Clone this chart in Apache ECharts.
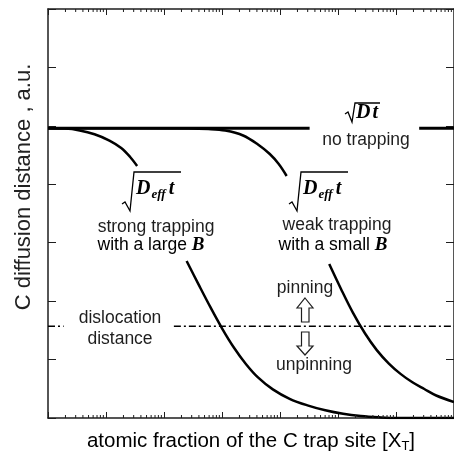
<!DOCTYPE html>
<html><head><meta charset="utf-8">
<script src="https://cdn.jsdelivr.net/npm/echarts@6/dist/echarts.min.js"></script>
<style>html,body{margin:0;padding:0;background:#fff}#c{width:454px;height:452px}</style>
</head><body><div id="c"></div>
<script>
// ---- data (x: atomic fraction of trap site, log scale; y: diffusion distance, a.u.) ----
const xRange = [1e-7, 1];
const yRange = [0, 7];
const decadeExps = [-7, -6, -5, -4, -3, -2, -1];
const minorMultipliers = [2, 3, 4, 5, 6, 7, 8, 9];

const noTrapA = [[1e-7, 4.96], [3.24e-3, 4.96]];
const noTrapB = [[0.251, 4.96], [1, 4.96]];

const strongA = [[1e-7, 4.958], [1.95e-7, 4.953], [3.52e-7, 4.922], [6.34e-7, 4.857], [1.146e-6, 4.749], [1.83e-6, 4.621], [2.61e-6, 4.467], [3.44e-6, 4.313]];
const strongB = [[2.455e-5, 2.687], [3.94e-5, 2.287], [6.31e-5, 1.897], [1.012e-4, 1.527], [1.622e-4, 1.198], [2.60e-4, 0.921], [4.17e-4, 0.695], [7.52e-4, 0.490], [1.466e-3, 0.329], [2.97e-3, 0.217], [6.04e-3, 0.132], [1.225e-2, 0.072], [2.48e-2, 0.034], [5.04e-2, 0.012], [1.023e-1, 0.0], [1, 0.0]];

const weakA = [[1e-7, 4.958], [2.65e-5, 4.956], [5.83e-5, 4.946], [1.138e-4, 4.919], [2.31e-4, 4.835], [4.17e-4, 4.681], [6.67e-4, 4.518], [9.51e-4, 4.347], [1.303e-3, 4.142]];
const weakB = [[7.06e-3, 2.635], [1.132e-2, 2.204], [1.815e-2, 1.799], [2.91e-2, 1.450], [4.66e-2, 1.162], [7.46e-2, 0.936], [0.1197, 0.755], [0.1919, 0.611], [0.3076, 0.496], [0.493, 0.385], [1, 0.274]];

const dislocA = [[1e-7, 1.57], [1.86e-7, 1.57]];
const dislocB = [[1.48e-5, 1.57], [1, 1.57]];

const minorTicks = [];
decadeExps.forEach(e => minorMultipliers.forEach(m => minorTicks.push([m * Math.pow(10, e), 0])));

// ---- chart ----
const INK = '#1e1e1e';
const SANS = '"Liberation Sans", Arial, sans-serif';
const SERIF = '"Liberation Serif", "Times New Roman", serif';
const chart = echarts.init(document.getElementById('c'), null, {renderer: 'canvas'});

function xAx(pos) {
  return {
    type: 'log', logBase: 10, min: xRange[0], max: xRange[1], position: pos,
    axisLine: {show: true, onZero: false, lineStyle: {color: INK, width: 1.5}},
    axisTick: {show: true, inside: true, length: 6, lineStyle: {color: INK, width: 1}},
    axisLabel: {show: false}, splitLine: {show: false}
  };
}
function yAx(pos) {
  return {
    type: 'value', min: yRange[0], max: yRange[1], interval: 1, position: pos,
    axisLine: {show: true, onZero: false, lineStyle: {color: INK, width: 1.5}},
    axisTick: {show: true, inside: true, length: 8, lineStyle: {color: INK, width: 1}},
    axisLabel: {show: false}, splitLine: {show: false}
  };
}
function curve(data, w) {
  return {type: 'line', data: data, xAxisIndex: 0, yAxisIndex: 0, symbol: 'none', smooth: 0.35,
    lineStyle: {color: '#000', width: w}, silent: true, animation: false, z: 3};
}
function dash(data) {
  return {type: 'line', data: data, symbol: 'none', silent: true, animation: false,
    lineStyle: {color: '#000', width: 1.3, type: [7, 3, 2, 3]}, z: 2};
}

function txt(text, x, y, opts, extra) {
  return Object.assign({type: 'text', x: x, y: y, silent: true,
    style: Object.assign({text: text, font: '17.5px ' + SANS, fill: INK, align: 'center', verticalAlign: 'middle'}, opts || {})}, extra || {});
}
const richD = {
  D: {fontFamily: SERIF, fontWeight: 'bold', fontStyle: 'italic', fontSize: 20, lineHeight: 24, color: '#000', verticalAlign: 'middle'},
  s: {fontFamily: SERIF, fontWeight: 'bold', fontStyle: 'italic', fontSize: 13, lineHeight: 13, color: '#000', verticalAlign: 'bottom', padding: [0, 1, 0, 1]},
  t: {fontFamily: SERIF, fontWeight: 'bold', fontStyle: 'italic', fontSize: 20, lineHeight: 24, color: '#000', verticalAlign: 'middle', padding: [0, 0, 0, 2]}
};
function deff(x, y) {
  return {type: 'text', x: x, y: y, silent: true,
    style: {text: '{D|D}{s|eff}{t|t}', rich: richD, align: 'left', verticalAlign: 'middle'}};
}
function radical(pts) {
  return {type: 'polyline', silent: true, shape: {points: pts}, style: {stroke: '#000', lineWidth: 1.3, fill: null}};
}
const richB = {
  n: {fontFamily: SANS, fontSize: 17.5, color: INK},
  b: {fontFamily: SERIF, fontWeight: 'bold', fontStyle: 'italic', fontSize: 19, color: '#000'}
};

const option = {
  animation: false,
  backgroundColor: '#fff',
  grid: {left: 48, top: 9, width: 410, height: 409, containLabel: false},
  xAxis: [xAx('bottom'), xAx('top')],
  yAxis: [yAx('left'), yAx('right')],
  series: [
    curve(noTrapA, 3), curve(noTrapB, 3),
    curve(strongA, 2.5), curve(strongB, 2.5),
    curve(weakA, 2.5), curve(weakB, 2.5),
    dash(dislocA), dash(dislocB),
    {type: 'custom', data: minorTicks, silent: true, animation: false, z: 4, clip: false,
      renderItem: function (params, api) {
        const xv = api.value(0);
        const b = api.coord([xv, yRange[0]]);
        const t = api.coord([xv, yRange[1]]);
        const len = 3;
        return {type: 'group', children: [
          {type: 'line', shape: {x1: b[0], y1: b[1], x2: b[0], y2: b[1] - len}, style: {stroke: INK, lineWidth: 1}},
          {type: 'line', shape: {x1: t[0], y1: t[1], x2: t[0], y2: t[1] + len}, style: {stroke: INK, lineWidth: 1}}
        ]};
      }}
  ],
  graphic: {elements: [
    // axis titles
    txt('C diffusion distance , a.u.', 24, 187, {font: '22px ' + SANS, fill: '#222'}, {rotation: Math.PI / 2}),
    {type: 'text', x: 251, y: 441, silent: true, style: {
      text: '{a|atomic fraction of the C trap site [X}{b|T}{a|]}', align: 'center', verticalAlign: 'middle',
      rich: {a: {fontFamily: SANS, fontSize: 20.5, lineHeight: 24, color: '#222', verticalAlign: 'middle'},
             b: {fontFamily: SANS, fontSize: 13, lineHeight: 13, color: '#222', verticalAlign: 'bottom'}}}},
    // no trapping
    radical([[345, 114], [348, 112], [352, 122], [355, 103], [380, 103]]),
    {type: 'text', x: 356, y: 113, silent: true, style: {text: '{D|D}{t|t}', rich: richD, align: 'left', verticalAlign: 'middle'}},
    txt('no trapping', 366, 140),
    // strong trapping
    radical([[122, 204], [125, 202], [130, 211], [134, 172], [181, 172]]),
    deff(136, 189),
    txt('strong trapping', 156, 227),
    {type: 'text', x: 151, y: 245, silent: true, style: {text: '{n|with a large }{b|B}', rich: richB, align: 'center', verticalAlign: 'middle'}},
    // weak trapping
    radical([[289, 204], [292, 202], [297, 211], [301, 172], [348, 172]]),
    deff(303, 189),
    txt('weak trapping', 337, 225),
    {type: 'text', x: 333, y: 245, silent: true, style: {text: '{n|with a small }{b|B}', rich: richB, align: 'center', verticalAlign: 'middle'}},
    // dislocation distance
    txt('dislocation', 120, 318),
    txt('distance', 120, 339),
    // pinning / unpinning
    txt('pinning', 305, 288),
    {type: 'polygon', silent: true, shape: {points: [[305, 298], [313, 308], [309, 308], [309, 322], [301.5, 322], [301.5, 308], [297, 308]]},
      style: {fill: '#fff', stroke: INK, lineWidth: 1.2}},
    {type: 'polygon', silent: true, shape: {points: [[301.5, 332], [309, 332], [309, 346], [313, 346], [305, 355], [297, 346], [301.5, 346]]},
      style: {fill: '#fff', stroke: INK, lineWidth: 1.2}},
    txt('unpinning', 314, 365)
  ]}
};
chart.setOption(option);
</script>
</body></html>
